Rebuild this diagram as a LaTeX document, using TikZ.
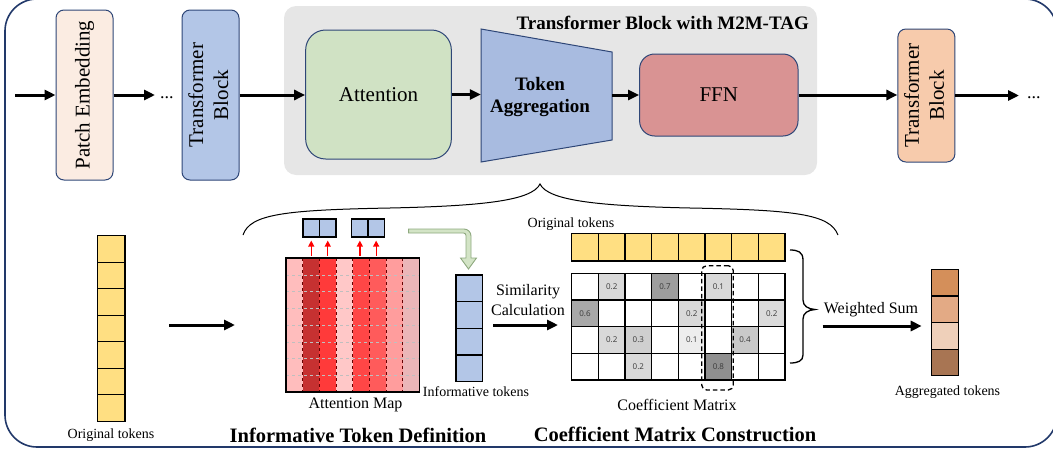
\documentclass[tikz,border=0pt]{standalone}
\usepackage{fontspec}
\setmainfont{Liberation Serif}
\newfontfamily\cellfont{Open Sans}
\usetikzlibrary{arrows.meta,calc}

\definecolor{framenavy}{HTML}{22396A}
\definecolor{edgeblue}{HTML}{2E4677}
\definecolor{peach}{HTML}{FBECE2}
\definecolor{blockblue}{HTML}{B3C6E7}
\definecolor{panelgray}{HTML}{E6E6E6}
\definecolor{attgreen}{HTML}{D0E2C4}
\definecolor{aggblue}{HTML}{A8BBE0}
\definecolor{ffnrose}{HTML}{D99393}
\definecolor{blockorange}{HTML}{F7CBAC}
\definecolor{tokyellow}{HTML}{FFDF82}
\definecolor{hintgreen}{HTML}{D3E4C6}
\definecolor{hintedge}{HTML}{8EA97F}
\definecolor{map1}{HTML}{FFBDBD}
\definecolor{map2}{HTML}{C63131}
\definecolor{map3}{HTML}{FF3A3A}
\definecolor{map4}{HTML}{FFC8C8}
\definecolor{map5}{HTML}{FF4646}
\definecolor{map6}{HTML}{FF5B5B}
\definecolor{map7}{HTML}{FF9D9D}
\definecolor{map8}{HTML}{EBB6B8}
\definecolor{agg1}{HTML}{D48F5A}
\definecolor{agg2}{HTML}{E3AA85}
\definecolor{agg3}{HTML}{EFD0BA}
\definecolor{agg4}{HTML}{A87553}
\definecolor{numgray}{HTML}{3A3A3A}

\begin{document}
\begin{tikzpicture}[x=1pt,y=-1pt,
  flow/.style={line width=3pt,-{Triangle[length=11pt,width=10pt]}},
  redarrow/.style={red,line width=1.3pt,-{Triangle[length=6pt,width=6pt]}},
  blockv/.style={draw=edgeblue,line width=1pt,rounded corners=8pt,inner sep=0pt,
    minimum width=57pt,font=\fontsize{21}{25}\selectfont},
  stage/.style={draw=edgeblue,line width=1pt,inner sep=0pt,font=\fontsize{21}{25}\selectfont},
  tok/.style={draw=black,line width=1.2pt,inner sep=0pt},
  lbl/.style={inner sep=0pt,font=\fontsize{14}{16}\selectfont},
  lblm/.style={inner sep=0pt,align=center,font=\fontsize{16}{20}\selectfont},
  sect/.style={inner sep=0pt,font=\bfseries\fontsize{20.5}{24}\selectfont},
  cell/.style={draw=black,line width=1.2pt,minimum width=26.67pt,minimum height=26.67pt,
    inner sep=0pt,font=\cellfont\fontsize{8}{9}\selectfont,text=numgray},
  dotnode/.style={inner sep=0pt,anchor=base west,font=\fontsize{18}{20}\selectfont}
]
\useasboundingbox (0,0) rectangle (1053,453);

% outer frame
\draw[framenavy,line width=1.6pt,rounded corners=32pt] (5,-1) rectangle (1057,447);

% ---------- top row: the transformer pipeline ----------
\fill[panelgray,rounded corners=12pt] (284,6) rectangle (817,175);
\node[anchor=east,inner sep=0pt,font=\bfseries\fontsize{19}{22}\selectfont] (paneltitle)
  at (809,23) {Transformer Block with M2M-TAG};

\coordinate (in) at (15,95);
\node[blockv,fill=peach,minimum height=170pt] (pe) at (84.5,95) {\rotatebox{90}{Patch Embedding}};
\node[dotnode] (dots1) at (160,98) {...};
\node[blockv,fill=blockblue,minimum height=170pt] (tb1) at (210.5,95)
  {\rotatebox{90}{\begin{tabular}{@{}c@{}}Transformer\\Block\end{tabular}}};
\node[stage,fill=attgreen,rounded corners=20pt,minimum width=145.7pt,minimum height=129pt]
  (att) at (378.5,94.5) {Attention};
\filldraw[fill=aggblue,draw=edgeblue,line width=1pt] (481,29) -- (612,52) -- (612,140) -- (481,162) -- cycle;
\node[inner sep=0pt,minimum width=131pt,minimum height=88pt] (tagg) at (546.5,96) {};
\node[align=center,inner sep=0pt,font=\bfseries\fontsize{19}{22}\selectfont] (taggtext)
  at (540,97) {Token\\Aggregation};
\node[stage,fill=ffnrose,rounded corners=15pt,minimum width=158.4pt,minimum height=82pt]
  (ffn) at (718.8,95) {FFN};
\node[blockv,fill=blockorange,minimum height=133pt] (tb2) at (926.4,95.5)
  {\rotatebox{90}{\begin{tabular}{@{}c@{}}Transformer\\Block\end{tabular}}};
\node[dotnode] (dots2) at (1027,98) {...};

\draw[flow] (in) -- (pe.west);
\draw[flow,shorten >=5pt] (pe.east) -- (pe.east -| dots1.west);
\draw[flow] (tb1.east) -- (tb1.east -| att.west);
\draw[flow] (att.east) -- (att.east -| tagg.west);
\draw[flow] (ffn.west -| tagg.east) -- (ffn.west);
\draw[flow] (ffn.east) -- (ffn.east -| tb2.west);
\draw[flow,shorten >=8pt] (tb2.east) -- (tb2.east -| dots2.west);

% ---------- brace opening the detail view ----------
\draw[line width=1pt] (243,235) .. controls (250,214) and (285,210) .. (390,208)
  .. controls (480,206) and (532,201) .. (540,184)
  .. controls (548,201) and (600,206) .. (690,208)
  .. controls (795,210) and (830,214) .. (838,235);

% ---------- original tokens ----------
\foreach \i in {1,...,7}
  \node[tok,fill=tokyellow,minimum width=27.3pt,minimum height=26.5pt] (orig\i)
    at (111.35,{235.7+26.5*(\i-0.5)}) {};
\node[lbl] (origlbl) at (111,435) {Original tokens};
\coordinate (s1) at (169,325);
\coordinate (e1) at (235,325);
\draw[flow] (s1) -- (e1);

% ---------- attention map ----------
\foreach \c in {1,...,8}
  \fill[map\c] ({286+16.675*(\c-1)},258) rectangle ++(16.675,134);
\foreach \r in {1,...,7}
  \draw[black!25,dashed,line width=0.4pt] (286,{258+16.75*\r}) -- ++(133.4,0);
\foreach \c in {1,...,7}
  \draw[black!60!red,dashed,line width=0.7pt] ({286+16.675*\c},258) -- ++(0,134);
\node[draw,line width=1.1pt,minimum width=133.4pt,minimum height=134pt,inner sep=0pt]
  (amap) at (352.7,325) {};
\node[lblm] (amaplbl) at (355.5,405) {Attention Map};

% selected columns become informative tokens
\foreach \k/\x in {1/311.25,2/327.75,3/359.85,4/376.15}
  \node[tok,fill=blockblue,minimum width=16.5pt,minimum height=18pt] (sel\k) at (\x,228) {};
\foreach \k in {1,...,4}
  \draw[redarrow,shorten <=1.5pt,shorten >=3pt] (sel\k.south |- amap.north) -- (sel\k.south);

% bent hint arrow
\draw[draw=hintedge,fill=hintgreen,line width=0.9pt]
  (408.6,229) [rounded corners=7pt]-- (471,229) [sharp corners]-- (471,258) -- (476.5,258)
  -- (468.5,269) -- (460.5,258) -- (466,258) [rounded corners=2.5pt]-- (466,233)
  [sharp corners]-- (408.6,233) -- cycle;

% informative tokens
\foreach \i in {1,...,4}
  \node[tok,fill=blockblue,minimum width=26.7pt,minimum height=26.67pt] (inf\i)
    at (469.35,{275+26.67*(\i-0.5)}) {};
\node[lbl] (inflbl) at (476,391.7) {Informative tokens};

\node[lblm] (simtxt) at (528,300) {Similarity\\Calculation};
\coordinate (s2) at (493,325);
\coordinate (e2) at (558,325);
\draw[flow] (s2) -- (e2);

% ---------- coefficient matrix ----------
\node[lbl] (toplbl) at (571,224) {Original tokens};
\foreach \c in {1,...,8}
  \node[tok,fill=tokyellow,minimum width=26.67pt,minimum height=27.7pt] (top\c)
    at ({571.7+26.67*(\c-0.5)},247.2) {};

\foreach \r/\c/\v/\g in {1/2/0.2/15,1/4/0.7/38,1/6/0.1/15,
    2/1/0.6/34,2/5/0.2/15,2/8/0.2/14,
    3/2/0.2/15,3/3/0.3/19,3/5/0.1/7,3/7/0.4/21,
    4/3/0.2/15,4/6/0.8/44}
  \node[cell,fill=black!\g] (val-\r-\c) at ({571.7+26.67*(\c-0.5)},{273.3+26.67*(\r-0.5)}) {\v};
\foreach \r in {1,...,4}
  \foreach \c in {1,...,8}
    \node[cell] (m-\r-\c) at ({571.7+26.67*(\c-0.5)},{273.3+26.67*(\r-0.5)}) {};

\node[draw,dashed,dash pattern=on 4.5pt off 3pt,line width=1.3pt,rounded corners=5pt,
  minimum width=31.6pt,minimum height=124.3pt,inner sep=0pt] (colsel) at (717.5,327.85) {};
\node[lblm] (cmlbl) at (677,405) {Coefficient Matrix};

% brace gathering tokens and coefficients
\draw[line width=1.3pt] (790,250) .. controls (798,250) and (803,252) .. (803,260) -- (803,300)
  .. controls (803,306) and (808,309) .. (815,309.5)
  .. controls (808,310) and (803,313) .. (803,319) -- (803,355)
  .. controls (803,361) and (798,363) .. (790,363);

\node[lblm] (wsum) at (871,310) {Weighted Sum};
\coordinate (s3) at (822.7,326);
\coordinate (e3) at (921.7,326);
\draw[flow] (s3) -- (e3);

% aggregated tokens
\foreach \i in {1,...,4}
  \node[tok,fill=agg\i,minimum width=26.6pt,minimum height=26.6pt] (agg\i)
    at (945,{269.3+26.6*(\i-0.5)}) {};
\node[lbl] (agglbl) at (947.5,392.3) {Aggregated tokens};

% ---------- section titles ----------
\node[sect] (sect1) at (358,435) {Informative Token Definition};
\node[sect] (sect2) at (675,434) {Coefficient Matrix Construction};
\end{tikzpicture}
\end{document}
